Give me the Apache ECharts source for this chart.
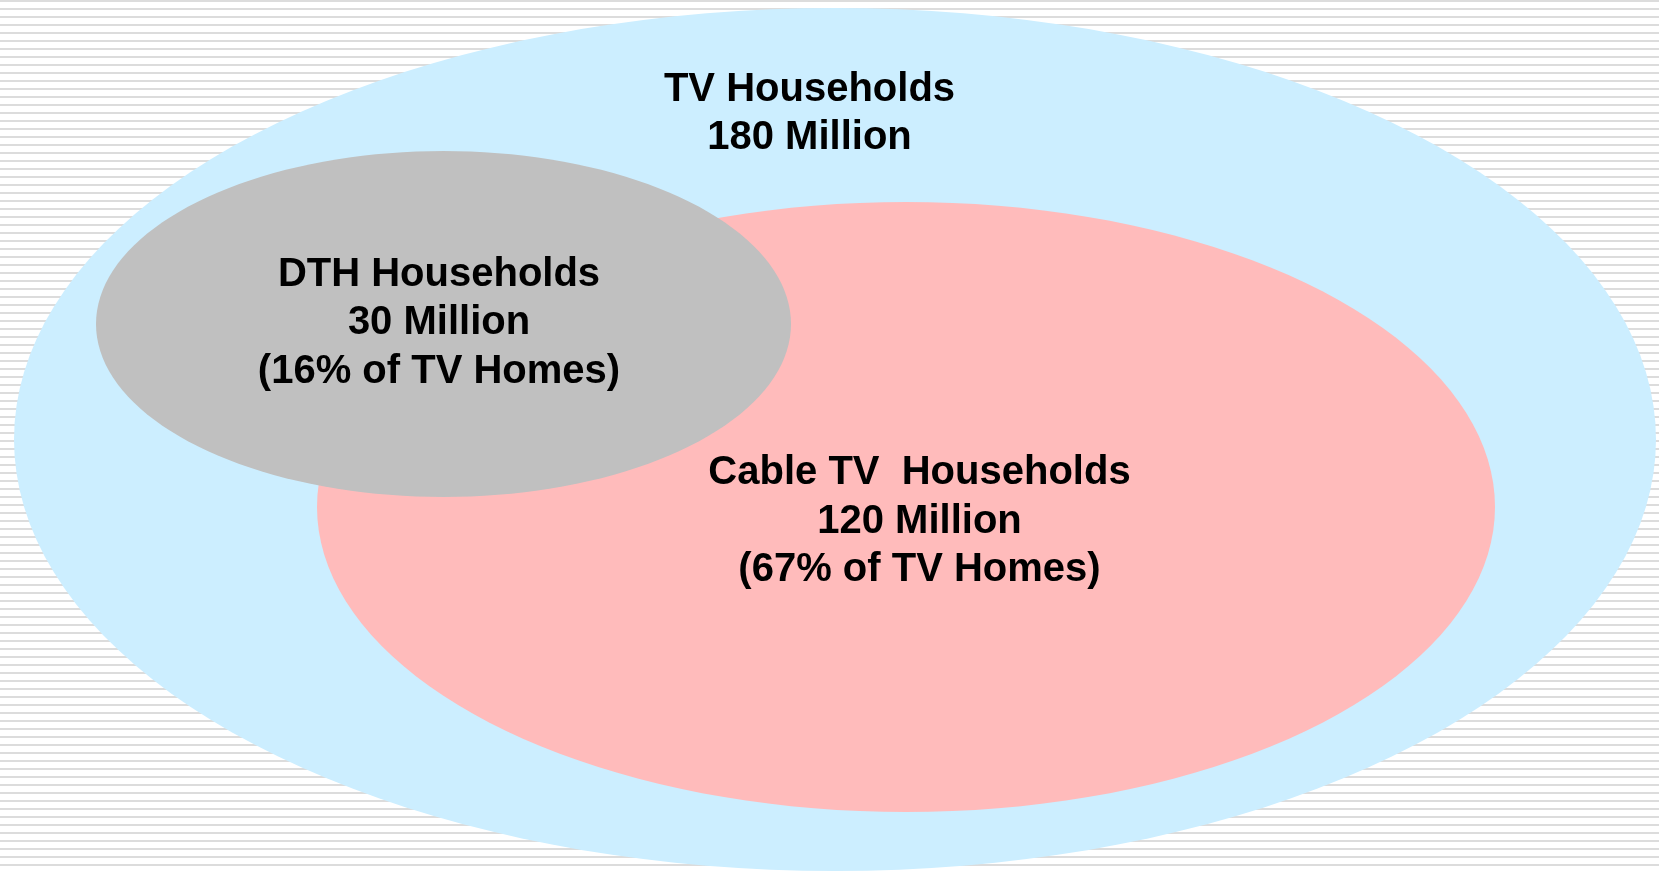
<!DOCTYPE html>
<html>
<head>
<meta charset="utf-8">
<script src="https://cdn.jsdelivr.net/npm/echarts@6/dist/echarts.min.js"></script>
<style>
  html, body { margin: 0; padding: 0; background: #ffffff; }
  #chart { width: 1659px; height: 872px; }
</style>
</head>
<body>
<div id="chart"></div>
<script>
// ---- Data ----
const segments = ['TV Households', 'Cable TV  Households', 'DTH Households'];
const householdsMillions = [180, 120, 30];
const shareOfTVHomes = [null, 67, 16];

// ---- Layout (in chart coordinate units, x: 0..1659, y: 0..872 top-down) ----
const ellipseCenters = [[835, 439.5], [906, 507], [443.5, 324]];
const ellipseRadii = [[821, 431.5], [589, 305], [347.5, 173]];
const labelAnchors = [[809.5, 114], [919.5, 521.7], [439, 323.2]];
const fillColors = ['#cceeff', '#ffbbbb', '#c0c0c0'];

const seriesData = segments.map((name, i) => ({
  name: name,
  value: [ellipseCenters[i][0], ellipseCenters[i][1], ellipseRadii[i][0], ellipseRadii[i][1],
          labelAnchors[i][0], labelAnchors[i][1], householdsMillions[i]]
}));

function labelText(i) {
  let t = segments[i] + '\n' + householdsMillions[i] + ' Million';
  if (shareOfTVHomes[i] != null) t += '\n(' + shareOfTVHomes[i] + '% of TV Homes)';
  return t;
}

// stripe pattern background
const pc = document.createElement('canvas');
pc.width = 8; pc.height = 8;
const pctx = pc.getContext('2d');
pctx.fillStyle = '#ffffff'; pctx.fillRect(0, 0, 8, 8);
pctx.fillStyle = '#dcdcdc'; pctx.fillRect(0, 0, 8, 2);

const chart = echarts.init(document.getElementById('chart'), null, { renderer: 'canvas' });
chart.setOption({
  backgroundColor: { image: pc, repeat: 'repeat' },
  animation: false,
  grid: { left: 0, right: 0, top: 0, bottom: 0 },
  xAxis: { type: 'value', min: 0, max: 1659, show: false },
  yAxis: { type: 'value', min: 0, max: 872, inverse: true, show: false },
  series: [{
    type: 'custom',
    coordinateSystem: 'cartesian2d',
    data: seriesData,
    renderItem: function (params, api) {
      const i = params.dataIndex;
      const cx = api.value(0), cy = api.value(1), rx = api.value(2), ry = api.value(3);
      const pts = [];
      const N = 160;
      for (let k = 0; k < N; k++) {
        const t = (k / N) * Math.PI * 2;
        pts.push(api.coord([cx + rx * Math.cos(t), cy + ry * Math.sin(t)]));
      }
      const lp = api.coord([api.value(4), api.value(5)]);
      return {
        type: 'group',
        children: [{
          type: 'polygon',
          shape: { points: pts },
          style: { fill: fillColors[i], stroke: null }
        }, {
          type: 'text',
          x: lp[0], y: lp[1],
          style: {
            text: labelText(i),
            align: 'center',
            verticalAlign: 'middle',
            fill: '#000000',
            fontFamily: 'Arial, "Liberation Sans", sans-serif',
            fontWeight: 'bold',
            fontSize: 40,
            lineHeight: 48.5
          }
        }]
      };
    }
  }]
});
</script>
</body>
</html>
